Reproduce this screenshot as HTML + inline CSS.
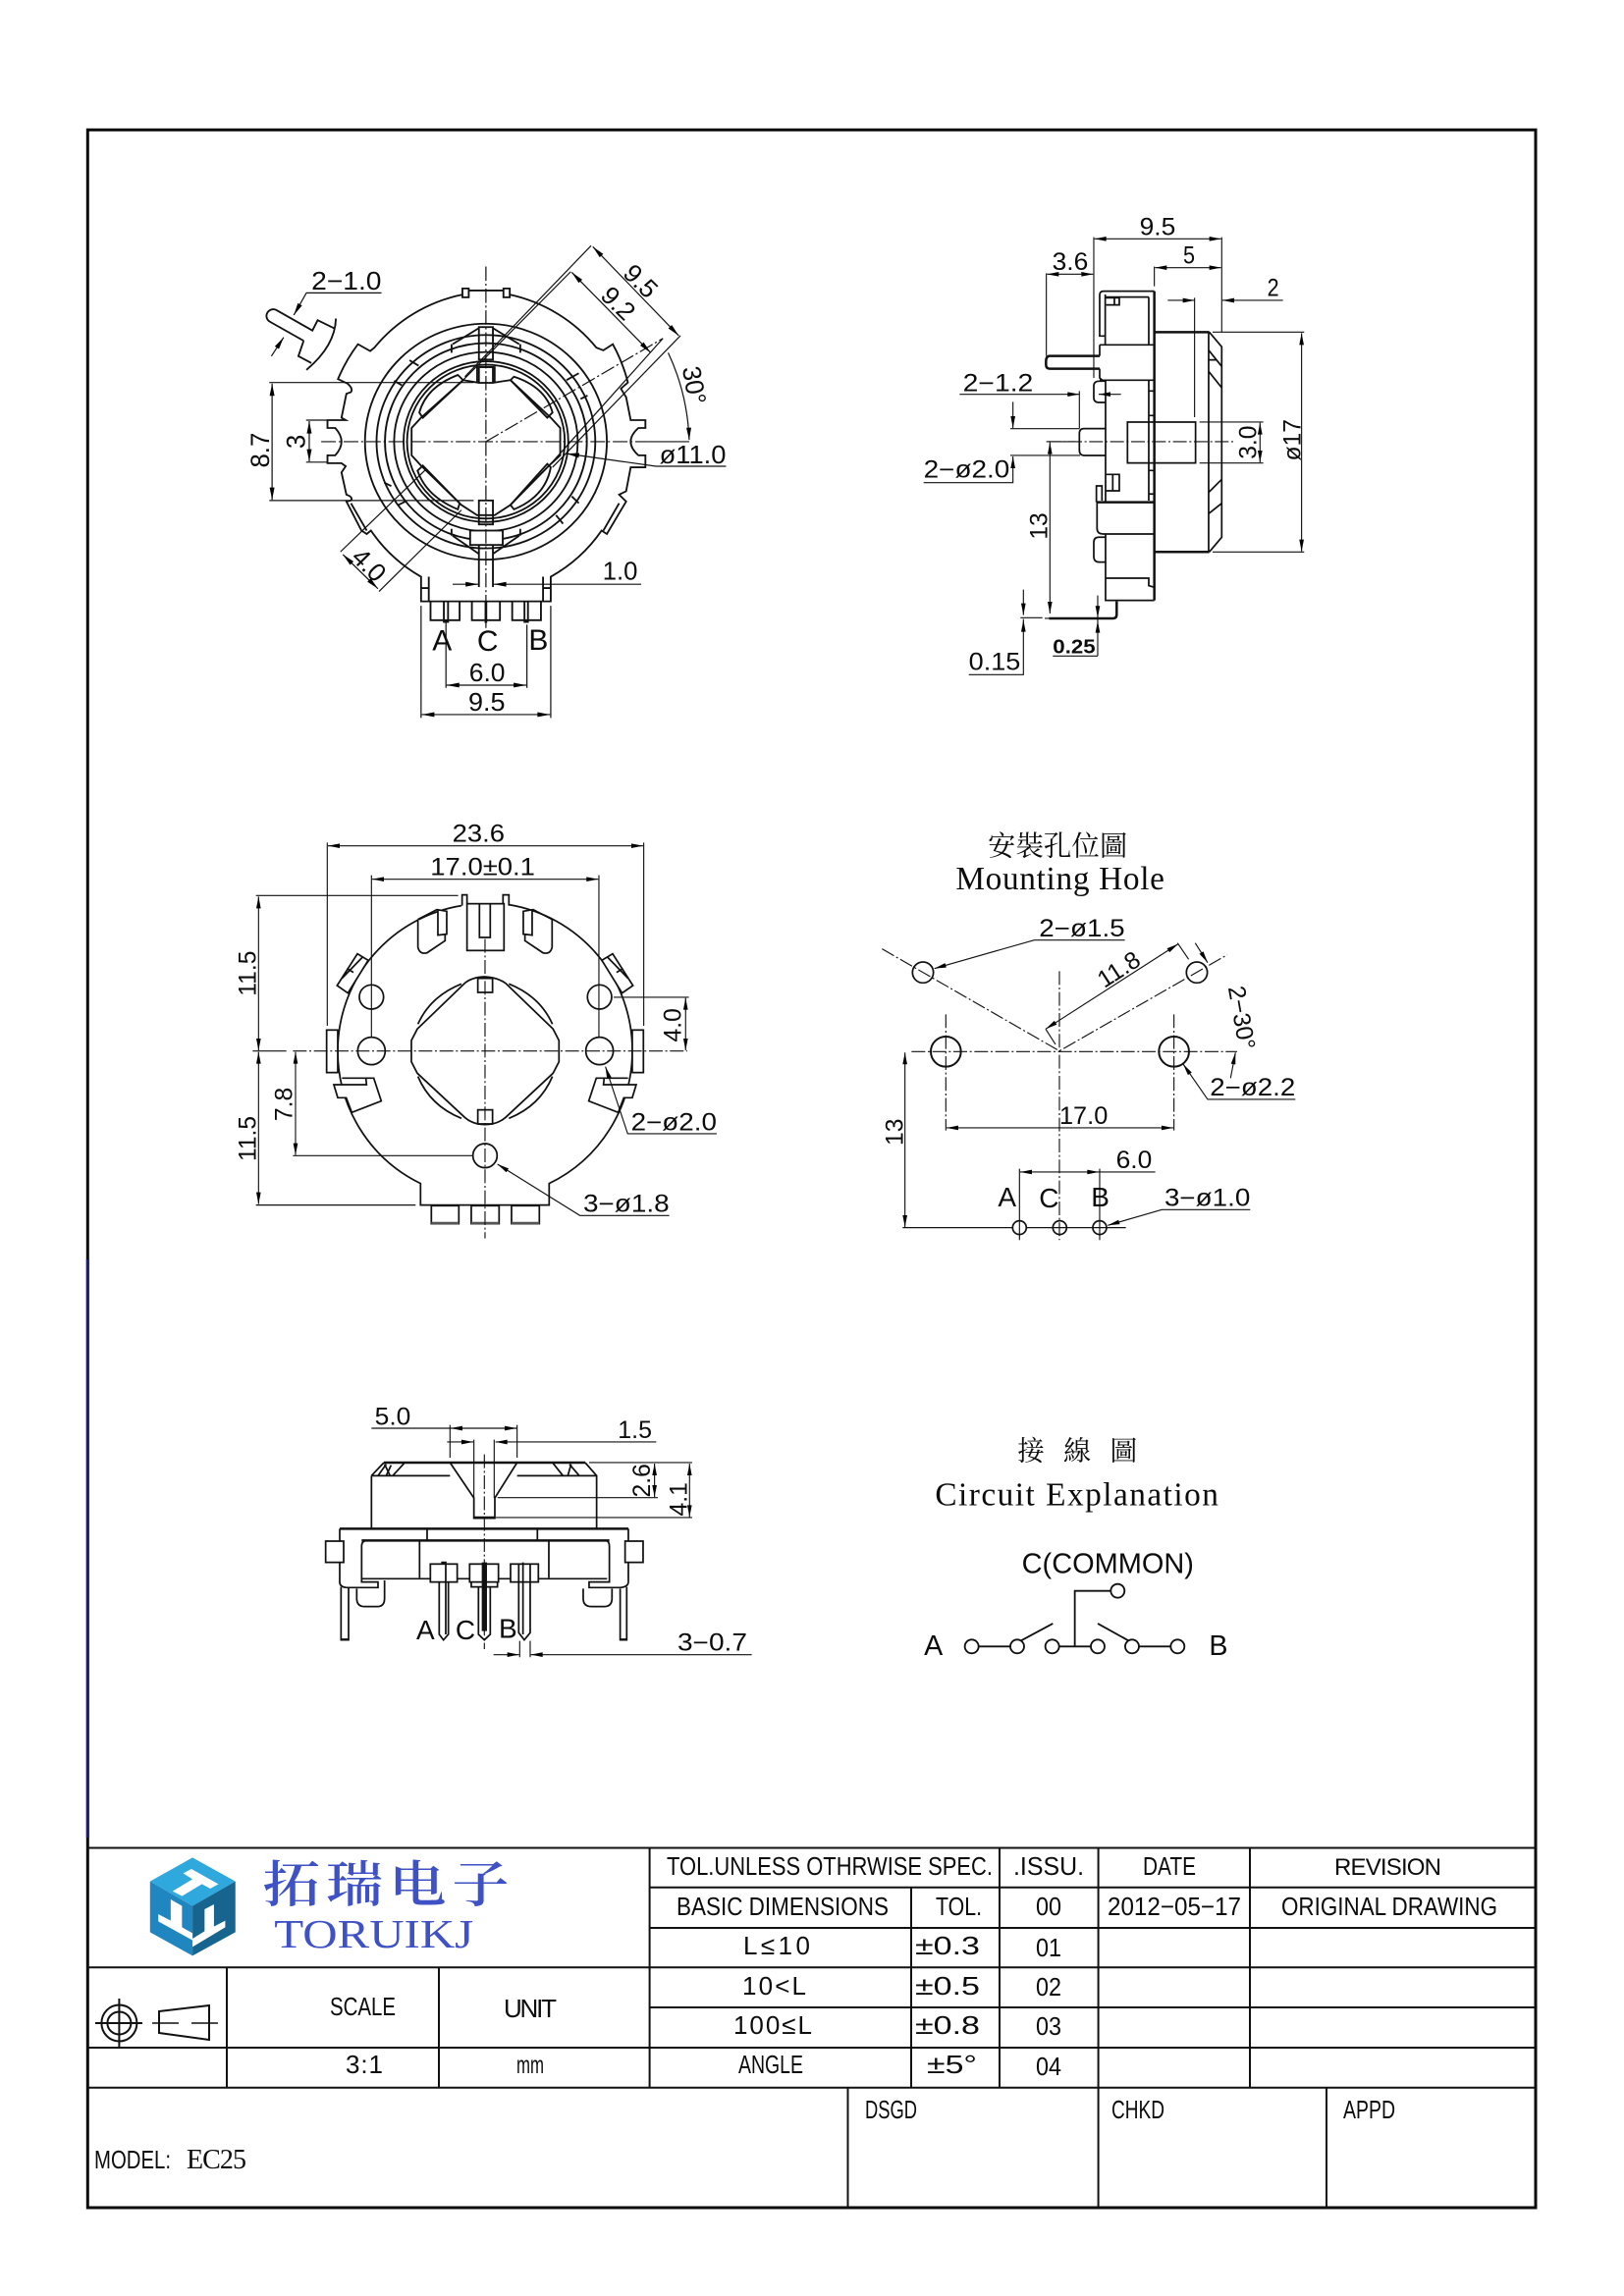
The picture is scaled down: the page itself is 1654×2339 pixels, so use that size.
<!DOCTYPE html>
<html><head><meta charset="utf-8"><title>EC25</title>
<style>
html,body{margin:0;padding:0;background:#fff}
svg{display:block}
text{stroke:none;fill:#0c0c0c;font-family:"Liberation Sans","Noto Sans CJK SC",sans-serif}
.z text,.z{font-size:74px}
.m{text-anchor:middle}
.c{stroke-dasharray:42 8 6 8}
.b{stroke-width:5.2}
.h{stroke-width:7.5}
.tb text{font-size:26px}
.sf{font-family:"Liberation Serif","Noto Serif CJK TC","Noto Serif CJK SC",serif}
</style></head><body>
<svg xmlns="http://www.w3.org/2000/svg" width="1654" height="2339" viewBox="0 0 1654 2339">
<defs><path id="h" d="M -36 -7 L 0 0 L -36 7 Z" fill="#000" stroke="none"/></defs>
<rect width="1654" height="2339" fill="#fff"/>
<!-- frame -->
<rect x="89.300" y="132.300" width="1474.700" height="2116.700" fill="none" stroke="#0a0a0a" stroke-width="3"/>
<path d="M89.300 1283V1872" stroke="#1c1c70" stroke-width="3"/>

<!-- view 1 -->
<g class="z" transform="translate(220 216.500) scale(.357 .3484)" fill="none" stroke="#111" stroke-width="3.4">
<g class="b">
<path d="M703 240A436 436 0 0 0 452 395L440 405L405 385A470 470 0 0 0 348 487L375 500Q392 515 385 525L372 530L358 600L370 607H318V630H340Q358 650 358 670Q358 690 340 710H318V733H358L370 742L358 760L372 825Q392 832 385 842L372 845L415 930L430 940L442 930A436 436 0 0 0 585 1065V1137H955V1065A436 436 0 0 0 1100 930L1115 940L1170 845L1150 825L1170 815L1183 745H1225V710H1205Q1183 690 1183 670Q1183 650 1205 630H1225V607H1183L1170 540L1155 515L1175 497A470 470 0 0 0 1132 385L1105 403L1085 395A436 436 0 0 0 838 240"/>
<path d="M385 850L430 930M1150 850L1105 930"/>
<path d="M721 228H820M703 222h18v26h-18zM820 222h18v26h-18z"/>
<circle cx="770" cy="670" r="345"/><circle cx="770" cy="670" r="312"/><circle cx="770" cy="670" r="288"/><circle cx="770" cy="670" r="262"/><circle cx="770" cy="670" r="235"/><circle cx="770" cy="670" r="225"/>
<path d="M558 630L585 600L705 490L745 497V452H795V497L840 490L955 600L982 630V710L950 740L840 855L795 885H745L700 855L585 740L558 710Z" fill="#fff"/>
<path d="M580 585Q600 510 690 475L705 490L590 600ZM850 480Q940 510 960 585L945 600L840 490ZM850 868Q940 830 955 745L945 735L840 855ZM690 868Q600 830 575 755L590 740L695 850Z"/>
<path d="M750 338L675 385M790 338L865 385M750 998L675 945M790 998L865 945M552 432L578 448M508 492L530 505M1000 490L1035 470M1040 545L1060 535M480 790L500 800M520 855L540 845M1015 830L1035 850M970 885L990 910M672 385V410M868 385V410M672 925V945M868 925V945"/>
<rect x="750" y="335" width="40" height="95"/><rect x="750" y="452" width="40" height="46"/><rect x="750" y="842" width="40" height="70"/><rect x="725" y="930" width="93" height="42" fill="#fff"/>
<path d="M750 972V1095M790 972V1095M585 1098H607M933 1098H955M607 1065V1137M933 1065V1137"/>
<path d="M612 1137V1192H695V1137M730 1137V1192H810V1137M845 1137V1192H927V1137M650 1137V1197H662V1137M880 1137V1197H890V1137"/><path d="M770 1137V1200" class="h"/>
<path d="M250 375L155 320A18 18 0 0 1 172 285L275 345L290 315L340 340M250 375L235 420L272 440M342 310Q340 390 258 460"/>
</g>
<path class="c" d="M770 158V1215M300 670H1230M770 670L1275 368"/>
<path d="M472 235H258L222 300M158 420L193 365"/>
<path d="M1070 97L710 480M1325 360L960 745M1012 173L705 490M1275 368L955 735"/>
<path d="M1075 100L1320 360M1015 175L1240 410"/>
<path d="M1290 410Q1345 530 1350 665M1350 670H1230"/>
<path d="M1455 742H1255L1000 705"/>
<path d="M152 497H735M152 842H735M257 607H318M257 730H318M160 500V840M266 610V728"/>
<path d="M355 992L600 750M465 1108L700 870M362 1000L462 1100"/>
<path d="M675 1087H748M1213 1087H792"/>
<path d="M656 1197V1390M887 1205V1390M585 1150V1478M955 1150V1478M658 1382H885M587 1468H953"/>
<use href="#h" transform="translate(222 300) rotate(119)"/><use href="#h" transform="translate(193 365) rotate(-57.5)"/>
<use href="#h" transform="translate(1320 360) rotate(46.7)"/><use href="#h" transform="translate(1075 100) rotate(226.7)"/>
<use href="#h" transform="translate(1240 410) rotate(46.2)"/><use href="#h" transform="translate(1015 175) rotate(226.2)"/>
<use href="#h" transform="translate(1350 665) rotate(88)"/><use href="#h" transform="translate(1000 705) rotate(188.3)"/>
<use href="#h" transform="translate(160 500) rotate(270)"/><use href="#h" transform="translate(160 840) rotate(90)"/>
<use href="#h" transform="translate(266 610) rotate(270)"/><use href="#h" transform="translate(266 728) rotate(90)"/>
<use href="#h" transform="translate(462 1100) rotate(45)"/><use href="#h" transform="translate(362 1000) rotate(225)"/>
<use href="#h" transform="translate(748 1087)"/><use href="#h" transform="translate(792 1087) rotate(180)"/>
<use href="#h" transform="translate(658 1382) rotate(180)"/><use href="#h" transform="translate(885 1382)"/>
<use href="#h" transform="translate(587 1468) rotate(180)"/><use href="#h" transform="translate(953 1468)"/>
<text x="272" y="226" textLength="200" lengthAdjust="spacingAndGlyphs">2−1.0</text>
<text class="m" transform="translate(1212 200) rotate(45)" y="26">9.5</text>
<text class="m" transform="translate(1148 265) rotate(45)" y="26">9.2</text>
<text class="m" transform="translate(1365 505) rotate(80)" y="26">30°</text>
<text x="1265" y="733" textLength="190" lengthAdjust="spacingAndGlyphs">ø11.0</text>
<text class="m" transform="translate(125 695) rotate(-90)" y="26">8.7</text>
<text class="m" transform="translate(228 670) rotate(-90)" y="26">3</text>
<text class="m" transform="translate(437 1030) rotate(45)" y="26">4.0</text>
<text x="1103" y="1073" textLength="100" lengthAdjust="spacingAndGlyphs">1.0</text>
<text class="m" x="645" y="1280" style="font-size:84px">A</text><text class="m" x="775" y="1282" style="font-size:84px">C</text><text class="m" x="920" y="1278" style="font-size:84px">B</text>
<text x="722" y="1370" textLength="103" lengthAdjust="spacingAndGlyphs">6.0</text>
<text x="720" y="1457" textLength="105" lengthAdjust="spacingAndGlyphs">9.5</text>
</g>

<!-- view 2 -->
<g class="z" transform="translate(920 210) scale(.3333)" fill="none" stroke="#111" stroke-width="3.4">
<g class="b">
<path d="M767 260H612Q600 260 600 272V397H617M617 270V424M750 278H617M750 278V424M617 280H660V302H620M645 280V302"/>
<path d="M600 424H767M600 532H767M600 424V458M600 497V525L612 535"/>
<path d="M600 458H448Q436 458 436 475V485Q436 497 448 497H600" class="h"/>
<path d="M767 260V1205" class="h"/>
<path d="M750 532V900M618 532V905M750 565H767M750 640H767M750 808H767M750 880H767"/>
<path d="M618 535H598Q582 535 582 550V585Q582 600 598 600H618"/>
<path d="M618 680H552Q538 680 538 695V745Q538 762 552 762H618"/>
<rect x="685" y="660" width="208" height="125"/>
<path d="M590 905V855H607V900M620 820H660V870H620M640 820V870"/>
<path d="M592 905H767" class="h"/><path d="M592 905V985Q592 1002 610 1002H767"/>
<path d="M618 1012H598Q582 1012 582 1028V1070Q582 1088 598 1088H618"/>
<path d="M618 1002V1205H767M618 1137H750V1160L767 1165"/>
<path d="M652 1208V1248Q652 1260 640 1260H445" class="h"/>
<path d="M767 385H935M767 1057H935" class="h"/>
<path d="M935 385L973 430V1012L935 1057M933 385V1057M933 440L973 490M933 505L973 555M933 470L955 470M933 875L973 835M933 940L973 908"/>
</g>
<path d="M905 660H1100M905 785H1100"/>
<path class="c" d="M440 720H1010"/>
<path d="M582 95V525M973 95V385M767 185V245M437 205V458"/>
<path d="M584 100H971M769 188H971M439 208H580M808 288H890M890 280V645M1160 288H975"/>
<path d="M945 385H1225M945 1057H1225M437 720H525M1217 388V1055M1090 662V783"/>
<path d="M172 575H538M538 565V680M665 575H597"/>
<path d="M327 680H538M327 762H540M335 598V678M62 845H335V765M448 722V1245"/>
<path d="M432 1260H445M594 1190V1375M457 1375H594M200 1432H367V1262M358 1258H425M367 1172V1250"/>
<use href="#h" transform="translate(584 100) rotate(180)"/><use href="#h" transform="translate(971 100)"/>
<use href="#h" transform="translate(769 188) rotate(180)"/><use href="#h" transform="translate(971 188)"/>
<use href="#h" transform="translate(439 208) rotate(180)"/><use href="#h" transform="translate(580 208)"/>
<use href="#h" transform="translate(890 288)"/><use href="#h" transform="translate(975 288) rotate(180)"/>
<use href="#h" transform="translate(1217 388) rotate(270)"/><use href="#h" transform="translate(1217 1055) rotate(90)"/>
<use href="#h" transform="translate(1090 662) rotate(270)"/><use href="#h" transform="translate(1090 783) rotate(90)"/>
<use href="#h" transform="translate(538 575)"/><use href="#h" transform="translate(597 575) rotate(180)"/>
<use href="#h" transform="translate(335 678) rotate(90)"/><use href="#h" transform="translate(335 765) rotate(270)"/>
<use href="#h" transform="translate(448 722) rotate(270)"/><use href="#h" transform="translate(448 1245) rotate(90)"/>
<use href="#h" transform="translate(367 1250) rotate(90)"/><use href="#h" transform="translate(367 1265) rotate(270)"/>
<use href="#h" transform="translate(594 1258) rotate(90)"/><use href="#h" transform="translate(594 1268) rotate(270)"/>
<text x="722" y="88" textLength="110" lengthAdjust="spacingAndGlyphs">9.5</text>
<text x="855" y="175" textLength="36" lengthAdjust="spacingAndGlyphs">5</text>
<text x="455" y="195" textLength="110" lengthAdjust="spacingAndGlyphs">3.6</text>
<text x="1112" y="275" textLength="36" lengthAdjust="spacingAndGlyphs">2</text>
<text x="182" y="565" textLength="215" lengthAdjust="spacingAndGlyphs">2−1.2</text>
<text x="62" y="830" textLength="263" lengthAdjust="spacingAndGlyphs">2−ø2.0</text>
<text class="m" transform="translate(413 978) rotate(-90)" y="26">13</text>
<text x="457" y="1367" textLength="130" lengthAdjust="spacingAndGlyphs" style="font-size:60px;font-weight:bold">0.25</text>
<text x="200" y="1417" textLength="158" lengthAdjust="spacingAndGlyphs">0.15</text>
<text class="m" transform="translate(1053 722) rotate(-90)" y="26">3.0</text>
<text class="m" transform="translate(1187 715) rotate(-90)" y="26">ø17</text>
</g>

<!-- view 3 -->
<g class="z" transform="translate(220 830) scale(.3333)" fill="none" stroke="#111" stroke-width="3.4">
<g class="b">
<path d="M895 275A450 450 0 0 1 1272 722A450 450 0 0 1 1018 1127V1193H625V1127A450 450 0 0 1 372 722A450 450 0 0 1 750 278"/>
<path d="M752 278V245H767V272M877 272V245H895V278"/>
<rect x="767" y="272" width="113" height="143" fill="#fff"/><path d="M805 272V375H838V272"/>
<circle cx="475" cy="557" r="37"/><circle cx="1172" cy="557" r="37"/><circle cx="475" cy="722" r="42"/><circle cx="1172" cy="722" r="42"/><circle cx="822" cy="1042" r="37"/>
<path d="M760 515Q780 497 820 495Q860 497 885 515L1030 655L1048 690V755L1030 790L885 925Q860 947 822 947Q785 947 760 925L615 790L597 755V690L615 655Z"/>
<path d="M750 517Q655 555 617 640M895 517Q990 555 1028 640M895 928Q990 890 1028 800M750 928Q655 890 617 800"/>
<rect x="800" y="500" width="45" height="43"/><rect x="800" y="902" width="45" height="43"/>
<g id="m3">
<path fill="#fff" d="M617 320L675 290L705 295V365L678 368V290M617 320V405Q622 428 645 422L700 385V365"/>
<path fill="#fff" d="M370 522L432 425L465 445L403 545ZM385 500L448 435M400 470L420 482"/>
<rect x="338" y="658" width="34" height="130" fill="#fff"/>
<path fill="#fff" d="M385 805H482L505 875L415 910L398 865H372L360 825H460L458 805"/>
</g>
<use href="#m3" transform="translate(1644 0) scale(-1 1)"/>
<rect x="658" y="1195" width="84" height="55"/><rect x="780" y="1195" width="85" height="55"/><rect x="903" y="1195" width="85" height="55"/>
<path d="M658 1248H742M780 1248H865M903 1248H988" class="h" stroke="#555"/>
</g>
<path class="c" d="M235 722H1440M822 380V1295"/><path d="M112 722H215"/>
<path d="M340 85V645M1307 85V645M475 185V680M1170 185V680M122 247H740M122 1193H610M235 1042H785M1215 558H1445"/>
<path d="M342 95H1305M477 197H1168M130 250V720M130 725V1190M243 725V1040M1435 560V720"/>
<path d="M1530 975H1258L1190 770M1385 1225H1112L860 1068"/>
<use href="#h" transform="translate(342 95) rotate(180)"/><use href="#h" transform="translate(1305 95)"/>
<use href="#h" transform="translate(477 197) rotate(180)"/><use href="#h" transform="translate(1168 197)"/>
<use href="#h" transform="translate(130 250) rotate(270)"/><use href="#h" transform="translate(130 720) rotate(90)"/>
<use href="#h" transform="translate(130 725) rotate(270)"/><use href="#h" transform="translate(130 1190) rotate(90)"/>
<use href="#h" transform="translate(243 725) rotate(270)"/><use href="#h" transform="translate(243 1040) rotate(90)"/>
<use href="#h" transform="translate(1435 560) rotate(270)"/><use href="#h" transform="translate(1435 720) rotate(90)"/>
<use href="#h" transform="translate(1190 770) rotate(251.6)"/><use href="#h" transform="translate(860 1068) rotate(211.9)"/>
<text x="722" y="82" textLength="160" lengthAdjust="spacingAndGlyphs">23.6</text>
<text x="655" y="185" textLength="320" lengthAdjust="spacingAndGlyphs">17.0±0.1</text>
<text class="m" transform="translate(95 485) rotate(-90)" y="26">11.5</text>
<text class="m" transform="translate(95 990) rotate(-90)" y="26">11.5</text>
<text class="m" transform="translate(207 885) rotate(-90)" y="26">7.8</text>
<text class="m" transform="translate(1395 643) rotate(-90)" y="26">4.0</text>
<text x="1268" y="965" textLength="262" lengthAdjust="spacingAndGlyphs">2−ø2.0</text>
<text x="1122" y="1213" textLength="263" lengthAdjust="spacingAndGlyphs">3−ø1.8</text>
</g>

<!-- view 4 -->
<g class="z" transform="translate(880 830) scale(.3333)" fill="none" stroke="#111" stroke-width="3.4">
<text class="sf" x="378" y="125" textLength="427" lengthAdjust="spacingAndGlyphs" style="font-size:85px">安裝孔位圖</text>
<text class="sf" x="280" y="228" textLength="638" lengthAdjust="spacing" style="font-size:100px">Mounting Hole</text>
<path class="c" d="M55 410L597 722L1110 428M597 478V1300M145 724H1140M250 610V965M947 610V965"/>
<g class="b"><circle cx="180" cy="482" r="32"/><circle cx="1017" cy="482" r="32"/>
<circle cx="250" cy="724" r="46" style="stroke-width:6"/><circle cx="947" cy="724" r="46" style="stroke-width:6"/>
<circle cx="475" cy="1262" r="21"/><circle cx="598" cy="1262" r="21"/><circle cx="720" cy="1262" r="21"/></g>
<path d="M252 957H945M797 383H520L215 470M555 655L960 395M555 655L585 702M958 392L992 442M1012 392L1050 452M1120 805L1135 727M1318 870H1050L975 762"/>
<path d="M890 1092H477M475 1082V1300M720 1082V1300M118 1262H455M498 1262H800M1180 1207H910L745 1255M125 727V1260"/>
<use href="#h" transform="translate(252 957) rotate(180)"/><use href="#h" transform="translate(945 957)"/>
<use href="#h" transform="translate(215 470) rotate(164)"/>
<use href="#h" transform="translate(960 395) rotate(-32.7)"/><use href="#h" transform="translate(555 655) rotate(147.3)"/>
<use href="#h" transform="translate(1050 452) rotate(57.6)"/><use href="#h" transform="translate(1135 727) rotate(-79)"/>
<use href="#h" transform="translate(975 762) rotate(235.2)"/>
<use href="#h" transform="translate(477 1092) rotate(180)"/><use href="#h" transform="translate(718 1092)"/>
<use href="#h" transform="translate(745 1255) rotate(163.8)"/>
<use href="#h" transform="translate(125 727) rotate(270)"/><use href="#h" transform="translate(125 1260) rotate(90)"/>
<text x="597" y="945" textLength="148" lengthAdjust="spacingAndGlyphs">17.0</text>
<text x="535" y="372" textLength="262" lengthAdjust="spacingAndGlyphs">2−ø1.5</text>
<text class="m" transform="translate(778 472) rotate(-33)" y="26">11.8</text>
<text class="m" transform="translate(1155 620) rotate(80)" y="26">2−30°</text>
<text x="1057" y="858" textLength="261" lengthAdjust="spacingAndGlyphs">2−ø2.2</text>
<text x="770" y="1080" textLength="110" lengthAdjust="spacingAndGlyphs">6.0</text>
<text class="m" x="437" y="1197" style="font-size:84px">A</text><text class="m" x="565" y="1200" style="font-size:84px">C</text><text class="m" x="722" y="1197" style="font-size:84px">B</text>
<text x="918" y="1195" textLength="262" lengthAdjust="spacingAndGlyphs">3−ø1.0</text>
<text class="m" transform="translate(92 970) rotate(-90)" y="26">13</text>
</g>

<!-- view 5 -->
<g class="z" transform="translate(310 1420) scale(.3333)" fill="none" stroke="#111" stroke-width="3.4">
<g class="b">
<path d="M205 250L243 210M858 210L893 250V410M205 250V410M205 250H445M650 250H893"/>
<path d="M243 210H858M108 412H990" class="h"/>
<path d="M445 210L518 318V380H582V318L650 210"/><path d="M518 378H582" class="h"/>
<path d="M225 250L250 215M250 250L265 218M270 250L305 212M245 215L262 250M760 212L790 250M810 215L840 250M805 250L815 215"/>
<path d="M108 412V575Q108 590 128 592H225V575H175V465Q175 450 190 448H920Q932 450 932 465V575H870V592H965Q990 590 990 575V412"/>
<path d="M175 448H932" class="h"/><path d="M175 565H925M375 415V448M712 415V448M352 450V562M747 450V562"/>
<path d="M65 450H120V515H65ZM980 450H1035V515H980Z" fill="#fff"/>
<path d="M112 590V752H135V592M965 595V752H985V590"/><path d="M112 750H135M965 750H985"/>
<path d="M160 595V625Q160 650 185 650H222Q245 650 245 625V570M852 595V625Q852 650 878 650H915Q940 650 940 625V595"/>
<rect x="385" y="520" width="82" height="55" fill="#fff"/><rect x="505" y="520" width="88" height="55" fill="#fff"/><rect x="630" y="520" width="85" height="55" fill="#fff"/>
<path d="M412 575V735L425 752L440 735V575M418 515H432V735"/>
<path d="M510 575V590H590V575"/><path d="M532 590V735L550 752L568 735V590"/><path d="M550 515V725" style="stroke-width:16"/>
<path d="M655 520V730L672 752L690 730V520M668 515V735"/>
</g>
<path class="c" d="M550 185V780"/>
<path d="M205 105H650M445 95V195M650 95V195M518 140V318M580 140V318M436 147H516M584 147H1075"/>
<path d="M870 210H1185M590 317H1080M585 378H1185M1070 213V315M1177 213V376"/>
<path d="M658 755V805M690 755V805M578 797H656M1367 797H692"/>
<use href="#h" transform="translate(447 105) rotate(180)"/><use href="#h" transform="translate(648 105)"/>
<use href="#h" transform="translate(516 147)"/><use href="#h" transform="translate(584 147) rotate(180)"/>
<use href="#h" transform="translate(1070 213) rotate(270)"/><use href="#h" transform="translate(1070 315) rotate(90)"/>
<use href="#h" transform="translate(1177 213) rotate(270)"/><use href="#h" transform="translate(1177 376) rotate(90)"/>
<use href="#h" transform="translate(656 797)"/><use href="#h" transform="translate(692 797) rotate(180)"/>
<text x="215" y="95" textLength="110" lengthAdjust="spacingAndGlyphs">5.0</text>
<text x="958" y="135" textLength="104" lengthAdjust="spacingAndGlyphs">1.5</text>
<text class="m" transform="translate(1030 265) rotate(-90)" y="26">2.6</text>
<text class="m" transform="translate(1143 322) rotate(-90)" y="26">4.1</text>
<text class="m" x="370" y="750" style="font-size:84px">A</text><text class="m" x="492" y="750" style="font-size:84px">C</text><text class="m" x="622" y="746" style="font-size:84px">B</text>
<text x="1140" y="785" textLength="213" lengthAdjust="spacingAndGlyphs">3−0.7</text>
</g>

<!-- view 6 -->
<g class="z" transform="translate(920 1450) scale(.3333)" fill="none" stroke="#111" stroke-width="5.5">
<text class="sf" x="348" y="112" textLength="367" lengthAdjust="spacing" style="font-size:84px">接 線 圖</text>
<text class="sf" x="97" y="250" textLength="866" lengthAdjust="spacing" style="font-size:100px">Circuit Explanation</text>
<text x="362" y="458" textLength="526" lengthAdjust="spacingAndGlyphs" style="font-size:86px">C(COMMON)</text>
<text class="m" x="92" y="708" style="font-size:86px">A</text><text class="m" x="963" y="708" style="font-size:86px">B</text>
<circle cx="655" cy="512" r="21"/>
<circle cx="209" cy="682" r="21"/><circle cx="348" cy="682" r="21"/><circle cx="455" cy="682" r="21"/><circle cx="594" cy="682" r="21"/><circle cx="699" cy="682" r="21"/><circle cx="838" cy="682" r="21"/>
<path d="M634 512H524V682M230 682H327M476 682H573M720 682H817M360 664L457 612M688 664L594 612"/>
</g>

<!-- title block -->
<g class="tb" fill="none" stroke="#111" stroke-width="2">
<path d="M89 1882.500H1564M661.600 1922.700H1564M661.600 1964H1564M89 2004.300H1564M661.600 2045H1564M89 2086H1564M89 2126.700H1564"/>
<path d="M661.600 1882.500V2126.700M231 2004.300V2126.700M447 2004.300V2126.700M928 1922.700V2126.700M1018 1882.500V2126.700M1118.600 1882.500V2249M1273 1882.500V2126.700M863.500 2126.700V2249M1351 2126.700V2249"/>
<text x="679" y="1910" textLength="332" lengthAdjust="spacingAndGlyphs">TOL.UNLESS OTHRWISE SPEC.</text>
<text x="1032" y="1910" textLength="72" lengthAdjust="spacingAndGlyphs">.ISSU.</text>
<text x="1164" y="1910" textLength="54" lengthAdjust="spacingAndGlyphs">DATE</text>
<text x="1359" y="1910" textLength="109" lengthAdjust="spacing" style="font-size:24px">REVISION</text>
<text x="689" y="1951" textLength="216" lengthAdjust="spacingAndGlyphs">BASIC DIMENSIONS</text>
<text x="953" y="1951" textLength="47" lengthAdjust="spacingAndGlyphs">TOL.</text>
<text x="1055" y="1951" textLength="26" lengthAdjust="spacingAndGlyphs">00</text>
<text x="1128" y="1951" textLength="136" lengthAdjust="spacingAndGlyphs">2012−05−17</text>
<text x="1305" y="1951" textLength="220" lengthAdjust="spacingAndGlyphs">ORIGINAL DRAWING</text>
<text x="757" y="1991" textLength="68" lengthAdjust="spacing">L≤10</text>
<text x="932" y="1991" textLength="66" lengthAdjust="spacingAndGlyphs">±0.3</text>
<text x="1055" y="1993" textLength="26" lengthAdjust="spacingAndGlyphs">01</text>
<text x="756" y="2032" textLength="65" lengthAdjust="spacing">10&lt;L</text>
<text x="932" y="2032" textLength="66" lengthAdjust="spacingAndGlyphs">±0.5</text>
<text x="1055" y="2033" textLength="26" lengthAdjust="spacingAndGlyphs">02</text>
<text x="747" y="2072" textLength="80" lengthAdjust="spacing">100≤L</text>
<text x="932" y="2072" textLength="66" lengthAdjust="spacingAndGlyphs">±0.8</text>
<text x="1055" y="2073" textLength="26" lengthAdjust="spacingAndGlyphs">03</text>
<text x="752" y="2112" textLength="66" lengthAdjust="spacingAndGlyphs">ANGLE</text>
<text x="944" y="2112" textLength="51" lengthAdjust="spacingAndGlyphs">±5°</text>
<text x="1055" y="2114" textLength="26" lengthAdjust="spacingAndGlyphs">04</text>
<text x="881" y="2158" textLength="53" lengthAdjust="spacingAndGlyphs">DSGD</text>
<text x="1132" y="2158" textLength="54" lengthAdjust="spacingAndGlyphs">CHKD</text>
<text x="1368" y="2158" textLength="53" lengthAdjust="spacingAndGlyphs">APPD</text>
<text x="336" y="2053" textLength="67" lengthAdjust="spacingAndGlyphs">SCALE</text>
<text x="513" y="2055" textLength="54" lengthAdjust="spacing">UNIT</text>
<text x="352" y="2112" textLength="38" lengthAdjust="spacing">3:1</text>
<text x="526" y="2112" textLength="28" lengthAdjust="spacingAndGlyphs" style="font-size:25px">mm</text>
<text x="96" y="2209" textLength="78" lengthAdjust="spacingAndGlyphs">MODEL:</text>
<text class="sf" x="190" y="2209" textLength="61" lengthAdjust="spacing" style="font-size:28px">EC25</text>
<ellipse cx="121.400" cy="2061" rx="18" ry="18.500"/><ellipse cx="121.400" cy="2061" rx="12" ry="11.500"/>
<path d="M97 2061H145M121.400 2036V2085M162 2049L213 2043V2078L162 2071Z"/>
<path d="M155 2061H182M195 2061H222" stroke-width="1.500"/>
</g>

<!-- logo -->
<g transform="translate(80 1880) scale(.3831 .3333)">
<path d="M303 37L417 110L303 185L190 110Z" fill="#2fa8dd"/>
<path d="M190 110L303 185V337L190 265Z" fill="#1f86bf"/>
<path d="M417 110L303 185V337L417 265Z" fill="#17658f"/>
<path d="M278 85L300 72L372 118L350 132L328 118L275 155L250 140L303 103Z" fill="#fff"/>
<path d="M245 165V230L212 210V232L303 290V268L275 250V185Z" fill="#fff"/>
<path d="M303 310L390 250V230L360 248V180L335 195V262L303 285Z" fill="#fff"/>
<text x="490" y="172" textLength="655" lengthAdjust="spacing" style="font-size:152px;font-weight:600;fill:#3f51c6;font-family:'Noto Serif CJK SC','Noto Sans CJK SC',serif">拓瑞电子</text>
<text x="520" y="312" textLength="530" lengthAdjust="spacingAndGlyphs" style="font-size:125px;fill:#3f51c6;font-family:'Liberation Serif',serif">TORUIKJ</text>
</g>
</svg>
</body></html>
